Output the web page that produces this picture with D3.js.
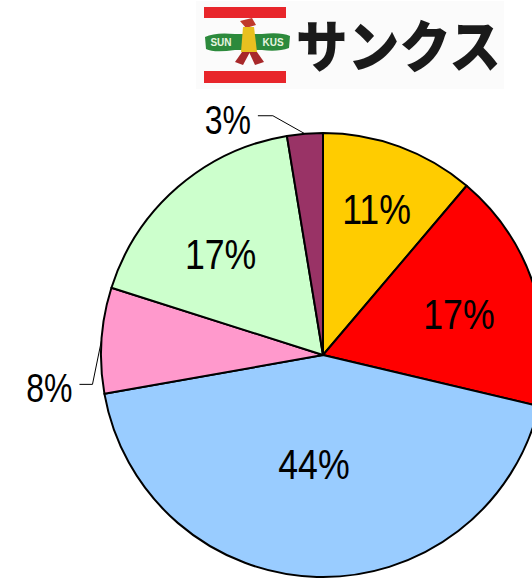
<!DOCTYPE html>
<html>
<head>
<meta charset="utf-8">
<script src="https://cdn.jsdelivr.net/npm/d3@7"></script>
<style>
  html, body { margin: 0; padding: 0; background: #fff; }
  svg { display: block; }
</style>
</head>
<body>
<svg id="chart" width="532" height="579"></svg>
<script>
// ---- data ----
const categories = ["A", "B", "C", "D", "E", "F"];
const values = [11.2, 17.5, 43.5, 7.7, 17.5, 2.6];
const labels = ["11%", "17%", "44%", "8%", "17%", "3%"];
const colors = ["#FFCC00", "#FF0000", "#99CCFF", "#FF99CC", "#CCFFCC", "#993366"];
const brandName = "サンクス";

// ---- layout ----
const cx = 323, cy = 355, R = 222;
const svg = d3.select("#chart");

// logo
const logo = svg.append("g");
logo.append("rect").attr("x", 196).attr("y", 1).attr("width", 308).attr("height", 88).attr("fill", "#FBFBFB");
logo.append("rect").attr("x", 204).attr("y", 7).attr("width", 82).attr("height", 11).attr("fill", "#E8262B");
logo.append("rect").attr("x", 204).attr("y", 71).attr("width", 82).attr("height", 12).attr("fill", "#E8262B");
logo.append("path")
  .attr("d", "M205,37 Q215,32 235,34 L262,34 Q281,32 290,36 L289,48 Q278,52 262,50 L235,50 Q214,53 206,49 Z")
  .attr("fill", "#2C8A3C");
logo.append("text").attr("x", 221).attr("y", 46).attr("font-family", "Liberation Sans, Arial").attr("font-size", 10)
  .attr("font-weight", 700).attr("fill", "#E8F5E0").attr("text-anchor", "middle").text("SUN");
logo.append("text").attr("x", 273).attr("y", 46).attr("font-family", "Liberation Sans, Arial").attr("font-size", 10)
  .attr("font-weight", 700).attr("fill", "#E8F5E0").attr("text-anchor", "middle").text("KUS");
logo.append("path").attr("d", "M240,21 L252,18 L256,25 L246,28 Z").attr("fill", "#C0392B");
logo.append("path").attr("d", "M243,27 L254,27 L257,52 L241,52 Z").attr("fill", "#E9C020");
logo.append("path").attr("d", "M242,52 L250,52 L243,65 L235,62 Z").attr("fill", "#A8282A");
logo.append("path").attr("d", "M249,52 L257,52 L264,62 L255,65 Z").attr("fill", "#A8282A");
logo.append("text")
  .attr("x", 296).attr("y", 67)
  .attr("font-family", "Noto Sans CJK JP, sans-serif")
  .attr("font-size", 56).attr("font-weight", 900)
  .attr("fill", "#1a1a1a")
  .attr("textLength", 205).attr("lengthAdjust", "spacingAndGlyphs")
  .text(brandName);

// pie
const pie = d3.pie().sort(null).value(d => d)(values);
const arc = d3.arc().innerRadius(0).outerRadius(R);
const g = svg.append("g").attr("transform", `translate(${cx},${cy})`);

g.selectAll("path.slice").data(pie).enter().append("path")
  .attr("class", "slice")
  .attr("d", arc)
  .attr("fill", (d, i) => colors[i])
  .attr("stroke", "#000")
  .attr("stroke-width", 2)
  .attr("stroke-linejoin", "round");

// labels
const inside = [0.70, 0.64, 0.49, null, 0.65, null];
const nudge = [[0, 0], [1, 3], [-6, 0], [0, 0], [-8, 8], [0, 0]];
const fontFam = "Liberation Sans, Arial, sans-serif";

pie.forEach((d, i) => {
  const mid = (d.startAngle + d.endAngle) / 2;
  if (inside[i] !== null) {
    const r = R * inside[i];
    const x = r * Math.sin(mid) + nudge[i][0];
    const y = -r * Math.cos(mid) + nudge[i][1];
    g.append("text")
      .attr("transform", `translate(${x},${y + 15}) scale(0.85,1)`)
      .attr("text-anchor", "middle")
      .attr("font-family", fontFam).attr("font-size", 42)
      .attr("fill", "#000")
      .text(labels[i]);
  } else {
    const ex = R * Math.sin(mid), ey = -R * Math.cos(mid);
    let elbow, end;
    if (ey < -150) { // top label
      elbow = [ex - 32, ey - 18];
      end = [elbow[0] - 15, elbow[1]];
    } else {
      elbow = [ex - 9, ey + 44];
      end = [elbow[0] - 13, elbow[1]];
    }
    g.append("polyline")
      .attr("points", [[ex, ey], elbow, end].map(p => p.join(",")).join(" "))
      .attr("fill", "none").attr("stroke", "#000").attr("stroke-width", 1);
    g.append("text")
      .attr("transform", `translate(${end[0] - 7},${end[1] + 18}) scale(0.8,1)`)
      .attr("text-anchor", "end")
      .attr("font-family", fontFam).attr("font-size", 40)
      .attr("fill", "#000")
      .text(labels[i]);
  }
});
</script>
</body>
</html>
